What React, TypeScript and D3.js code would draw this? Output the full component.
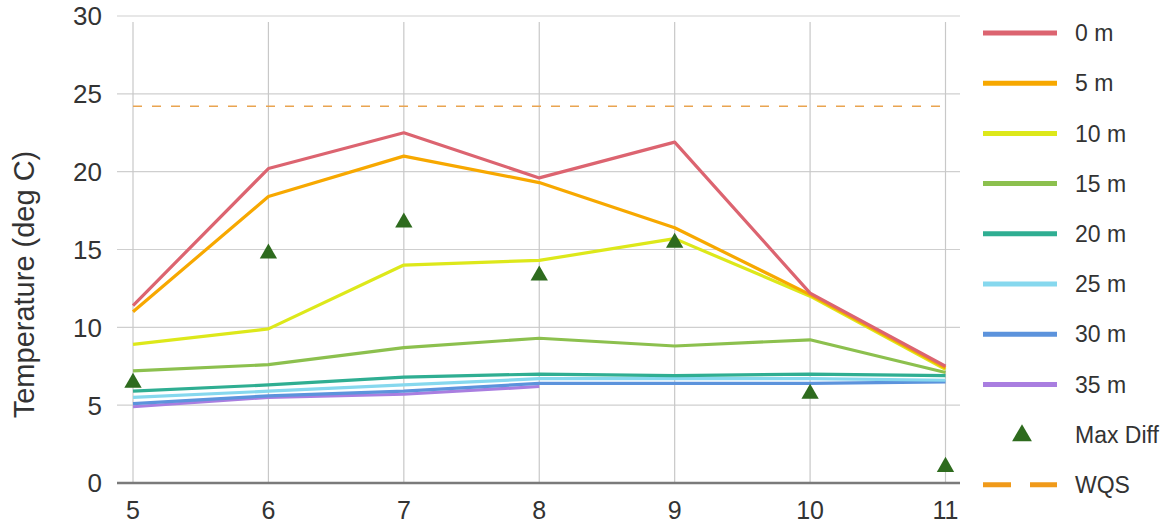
import React from "react";
import * as d3 from "d3";

const months = [5, 6, 7, 8, 9, 10, 11];
const seriesNames = ["0 m", "5 m", "10 m", "15 m", "20 m", "25 m", "30 m", "35 m"];
const seriesColors = ["#dc6470", "#f7a800", "#dde81a", "#8cc04e", "#2fae92", "#86d8ee", "#5c93dc", "#a97ee0"];
const t0 = [11.4, 20.2, 22.5, 19.6, 21.9, 12.2, 7.5];
const t5 = [11.0, 18.4, 21.0, 19.3, 16.4, 12.1, 7.4];
const t10 = [8.9, 9.9, 14.0, 14.3, 15.7, 12.0, 7.3];
const t15 = [7.2, 7.6, 8.7, 9.3, 8.8, 9.2, 7.1];
const t20 = [5.9, 6.3, 6.8, 7.0, 6.9, 7.0, 6.9];
const t25 = [5.5, 5.9, 6.3, 6.7, 6.7, 6.7, 6.6];
const t30 = [5.1, 5.6, 5.9, 6.4, 6.4, 6.4, 6.5];
const t35: (number | null)[] = [4.9, 5.5, 5.7, 6.2, null, null, null];
const maxDiff = [6.5, 14.8, 16.8, 13.4, 15.5, 5.8, 1.1];
const wqs = 24.2;
const yTicks = [0, 5, 10, 15, 20, 25, 30];
const yLabel = "Temperature (deg C)";

const seriesValues = [t0, t5, t10, t15, t20, t25, t30, t35];

export default function App() {
  const W = 1170, H = 527;
  const x = d3.scaleLinear().domain([5, 11]).range([133, 945.5]);
  const y = d3.scaleLinear().domain([0, 30]).range([483, 16]);
  const gridLeft = 117, gridRight = 960;
  const line = d3
    .line<number | null>()
    .defined((d) => d !== null)
    .x((_, i) => x(months[i]))
    .y((d) => y(d as number));
  const tri = d3.symbol().type(d3.symbolTriangle).size(130);
  const font = "'Liberation Sans', Arial, sans-serif";
  const legX0 = 983, legX1 = 1057, legTextX = 1075;
  const rowY = (i: number) => 33 + i * 50.2;

  return (
    <svg width={W} height={H} style={{ position: "absolute", left: 0, top: 0, background: "#fff" }} fontFamily={font}>
      {yTicks.filter((t) => t !== 0).map((t) => (
        <line key={"h" + t} x1={gridLeft} x2={gridRight} y1={y(t)} y2={y(t)} stroke="#cfcfcf" strokeWidth={1.2} />
      ))}
      {months.map((m) => (
        <line key={"v" + m} x1={x(m)} x2={x(m)} y1={22} y2={y(0)} stroke="#c8c8c8" strokeWidth={1.2} />
      ))}
      <line x1={gridLeft} x2={gridRight} y1={y(0)} y2={y(0)} stroke="#7a7a7a" strokeWidth={2.5} />
      {yTicks.map((t) => (
        <text key={"yt" + t} x={102} y={y(t)} dy="0.36em" textAnchor="end" fontSize={26} fill="#333">
          {t}
        </text>
      ))}
      {months.map((m) => (
        <text key={"xt" + m} x={x(m)} y={519} textAnchor="middle" fontSize={25} fill="#333">
          {m}
        </text>
      ))}
      <text transform={`translate(34,${(y(0) + y(30)) / 2 + 35}) rotate(-90)`} textAnchor="middle" fontSize={29} fill="#333">
        {yLabel}
      </text>
      <line x1={x(5)} x2={x(11)} y1={y(wqs)} y2={y(wqs)} stroke="#e9a450" strokeWidth={1.6} strokeDasharray="9 10" />
      {seriesValues
        .map((vals, i) => ({ vals, i }))
        .reverse()
        .map(({ vals, i }) => (
          <path key={"s" + i} d={line(vals as (number | null)[]) || ""} fill="none" stroke={seriesColors[i]} strokeWidth={3.2} strokeLinejoin="round" />
        ))}
      {maxDiff.map((v, i) => (
        <path key={"md" + i} d={tri() || ""} transform={`translate(${x(months[i])},${y(v) + 1})`} fill="#2e6b1e" />
      ))}
      {seriesNames.map((n, i) => (
        <g key={"lg" + i}>
          <line x1={legX0} x2={legX1} y1={rowY(i)} y2={rowY(i)} stroke={seriesColors[i]} strokeWidth={5} />
          <text x={legTextX} y={rowY(i)} dy="0.36em" fontSize={23} fill="#333">
            {n}
          </text>
        </g>
      ))}
      <path d={d3.symbol().type(d3.symbolTriangle).size(170)() || ""} transform={`translate(1022,${rowY(8) + 1})`} fill="#2e6b1e" />
      <text x={legTextX} y={rowY(8)} dy="0.36em" fontSize={23} fill="#333">Max Diff</text>
      <line x1={legX0} x2={legX1} y1={rowY(9)} y2={rowY(9)} stroke="#f09a1a" strokeWidth={5} strokeDasharray="28 19" />
      <text x={legTextX} y={rowY(9)} dy="0.36em" fontSize={23} fill="#333">WQS</text>
    </svg>
  );
}
